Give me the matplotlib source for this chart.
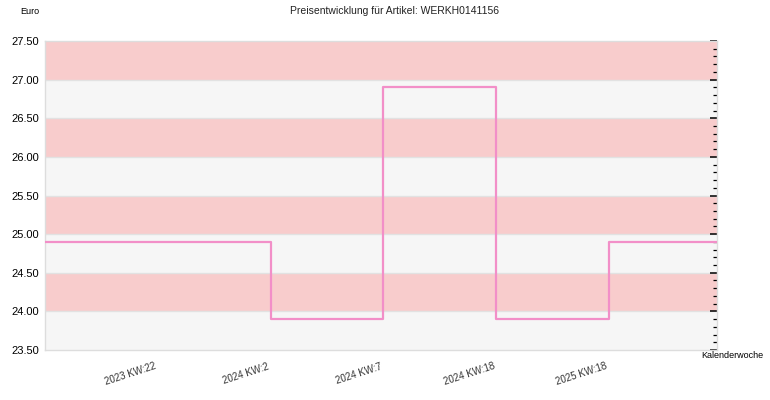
import numpy as np
import matplotlib.pyplot as plt
from matplotlib.ticker import MultipleLocator, FuncFormatter

weeks = ["2023 KW:22", "2024 KW:2", "2024 KW:7", "2024 KW:18", "2025 KW:18"]
prices = [24.90, 23.90, 26.90, 23.90, 24.90]

plt.rcParams['font.family'] = ['Liberation Sans', 'DejaVu Sans']

fig = plt.figure(figsize=(7.7, 4.0), dpi=100)
ax = fig.add_axes([45 / 770, 50 / 400, 672 / 770, 309 / 400])

ymin, ymax = 23.5, 27.5
xpos = np.arange(1, len(weeks) + 1)
xmin, xmax = 0, len(weeks) + 1

# alternating bands, pink on top
levels = np.arange(ymin, ymax, 0.5)
for i, lo in enumerate(levels):
    col = '#f8cccc' if i % 2 == 1 else '#f6f6f6'
    ax.axhspan(lo, lo + 0.5, color=col, lw=0, zorder=0)
    if lo > ymin:
        ax.axhline(lo, color='#e2e2e2', lw=1, zorder=1)

xs = np.concatenate([[xmin], xpos, [xmax]])
ys = np.concatenate([[prices[0]], prices, [prices[-1]]])
ax.step(xs, ys, where='post', color='#f28fc8', lw=1.6, zorder=3)

ax.set_xticks(xpos)
ax.set_xticklabels(weeks, rotation=18, ha='right', fontsize=7, color='#333333')
ax.tick_params(axis='x', length=0, pad=8)

ax.yaxis.set_major_locator(MultipleLocator(0.5))
ax.yaxis.set_minor_locator(MultipleLocator(0.1))
ax.yaxis.set_major_formatter(FuncFormatter(lambda v, p: f"{v:.2f}"))
ax.tick_params(axis='y', which='both', left=False, right=True, direction='in',
               labelleft=True, labelright=False, colors='black', labelsize=8)
ax.tick_params(axis='y', which='major', length=5, width=1.1, pad=4)
ax.tick_params(axis='y', which='minor', length=3, width=0.9)

# last step runs a bit past the right edge in the original
ax.set_xlim(xmin, xmax - 0.04)
ax.set_ylim(ymin, ymax)

for s in ax.spines.values():
    s.set_color('#dddddd')
    s.set_linewidth(1)

fig.text(395 / 770, 1 - 11 / 400, "Preisentwicklung für Artikel: WERKH0141156",
         ha='center', va='center', fontsize=7.5, color='#222222')
fig.text(20 / 770, 1 - 11 / 400, "Euro", ha='left', va='center', fontsize=6.5)
fig.text(763 / 770, 1 - 356 / 400, "Kalenderwoche", ha='right', va='center', fontsize=6.5)

fig.savefig("out.png", dpi=100)
